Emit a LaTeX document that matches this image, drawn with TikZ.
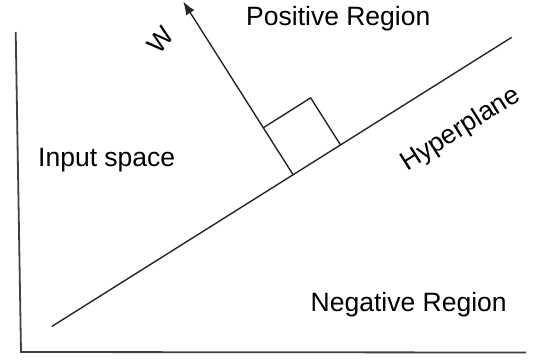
\documentclass[tikz,border=0pt]{standalone}
\usepackage{fontspec}
\setmainfont{Liberation Sans}
\usetikzlibrary{arrows.meta,calc,positioning}

\begin{document}
\begin{tikzpicture}[x=1pt,y=-1pt,>={Latex[length=13pt,width=10pt]},
    axis/.style={line width=1.8pt,black!75},
    plane/.style={line width=1.4pt,black!85},
    lbl/.style={inner sep=0pt,font=\fontsize{26.5}{30}\selectfont}]
  \useasboundingbox (0,0) rectangle (535,360);
  % axes
  \coordinate (ytop) at (15.7,32);
  \coordinate (origin) at (21,352);
  \coordinate (xend) at (526,352.5);
  \draw[axis] (ytop) -- (origin) -- (xend);
  % hyperplane and normal
  \coordinate (hstart) at (51.7,326.5);
  \coordinate (hend) at (511.7,37.3);
  \coordinate (foot) at (293.3,175);
  \coordinate (wtip) at (183.3,1.7);
  \draw[plane] (hstart) -- (hend);
  \draw[plane,->] (foot) -- (wtip);
  % right angle mark
  \coordinate (sqa) at ($(foot)!56pt!(wtip)$);
  \coordinate (sqc) at ($(foot)!56pt!(hend)$);
  \coordinate (sqb) at ($(sqa)+(sqc)-(foot)$);
  \draw[plane] (sqa) -- (sqb) -- (sqc);
  % labels
  \node[lbl,anchor=base] (pos) at (338.3,25) {Positive Region};
  \node[lbl,anchor=base] (inp) at (106.7,166.7) {Input space};
  \node[lbl,anchor=base] (neg) at (408.7,311) {Negative Region};
  \node[lbl,rotate=32.2] (hyp) at (460.7,129.7) {Hyperplane};
  \node[lbl,rotate=50] (w) at (161,40) {W};
\end{tikzpicture}
\end{document}
